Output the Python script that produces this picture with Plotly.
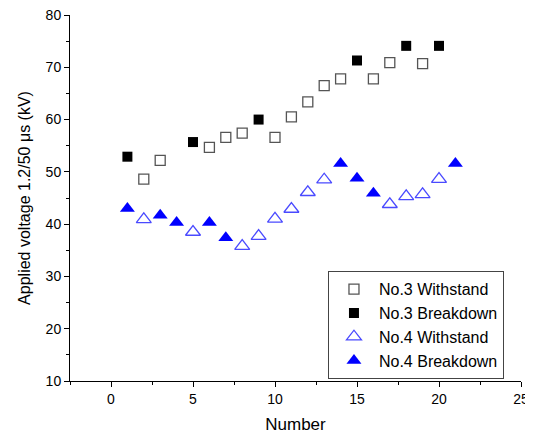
import plotly.graph_objects as go

# No.3 sample
n3_withstand_x = [2, 3, 6, 7, 8, 10, 11, 12, 13, 14, 16, 17, 19]
n3_withstand_y = [48.6, 52.2, 54.7, 56.6, 57.4, 56.6, 60.5, 63.4, 66.5, 67.8, 67.8, 70.9, 70.7]
n3_breakdown_x = [1, 5, 9, 15, 18, 20]
n3_breakdown_y = [52.9, 55.7, 60.0, 71.3, 74.1, 74.1]

# No.4 sample
n4_withstand_x = [2, 5, 8, 9, 10, 11, 12, 13, 17, 18, 19, 20]
n4_withstand_y = [40.9, 38.5, 35.8, 37.7, 41.0, 42.9, 46.1, 48.5, 43.8, 45.3, 45.7, 48.6]
n4_breakdown_x = [1, 3, 4, 6, 7, 14, 15, 16, 21]
n4_breakdown_y = [43.0, 41.7, 40.3, 40.3, 37.4, 51.6, 48.8, 45.9, 51.6]

FONT = "Arial, Liberation Sans, sans-serif"

fig = go.Figure()
fig.add_trace(go.Scatter(
    x=n3_withstand_x, y=n3_withstand_y, mode="markers", name="No.3 Withstand",
    marker=dict(symbol="square-open", size=10, color="#555555", line=dict(width=1.3))))
fig.add_trace(go.Scatter(
    x=n3_breakdown_x, y=n3_breakdown_y, mode="markers", name="No.3 Breakdown",
    marker=dict(symbol="square", size=10, color="black")))
fig.add_trace(go.Scatter(
    x=n4_withstand_x, y=n4_withstand_y, mode="markers", name="No.4 Withstand",
    marker=dict(symbol="triangle-up-open", size=13, color="#4a4aff", line=dict(width=1.3))))
fig.add_trace(go.Scatter(
    x=n4_breakdown_x, y=n4_breakdown_y, mode="markers", name="No.4 Breakdown",
    marker=dict(symbol="triangle-up", size=13, color="#0000ff")))

axis_common = dict(
    showgrid=False, zeroline=False, showline=True, linecolor="black", linewidth=1,
    ticks="outside", ticklen=5, tickwidth=1, tickcolor="black",
    tickfont=dict(family=FONT, size=14, color="black"),
    automargin=False, ticklabeloverflow="allow",
)

fig.update_xaxes(
    **axis_common, range=[-2.5, 25], tick0=0, dtick=5,
    minor=dict(ticks="outside", ticklen=3, dtick=2.5, tick0=0, tickcolor="black"),
    title=dict(text="Number", font=dict(family=FONT, size=17, color="black"), standoff=14),
)
fig.update_yaxes(
    **axis_common, range=[10, 80], tick0=10, dtick=10,
    minor=dict(ticks="outside", ticklen=3, dtick=5, tick0=10, tickcolor="black"),
    title=dict(text="Applied voltage 1.2/50 μs (kV)", font=dict(family=FONT, size=16, color="black"), standoff=11),
)

fig.update_layout(
    width=525, height=426,
    margin=dict(l=62, r=12, t=7, b=53),
    plot_bgcolor="white", paper_bgcolor="white",
    font=dict(family=FONT, size=16, color="black"),
    legend=dict(
        x=0.572, y=0.3, xanchor="left", yanchor="top",
        bordercolor="#444444", borderwidth=1, bgcolor="white",
        font=dict(family=FONT, size=16, color="black"),
        tracegroupgap=0, itemwidth=40,
    ),
    showlegend=True,
)

fig.write_html("out.html")
